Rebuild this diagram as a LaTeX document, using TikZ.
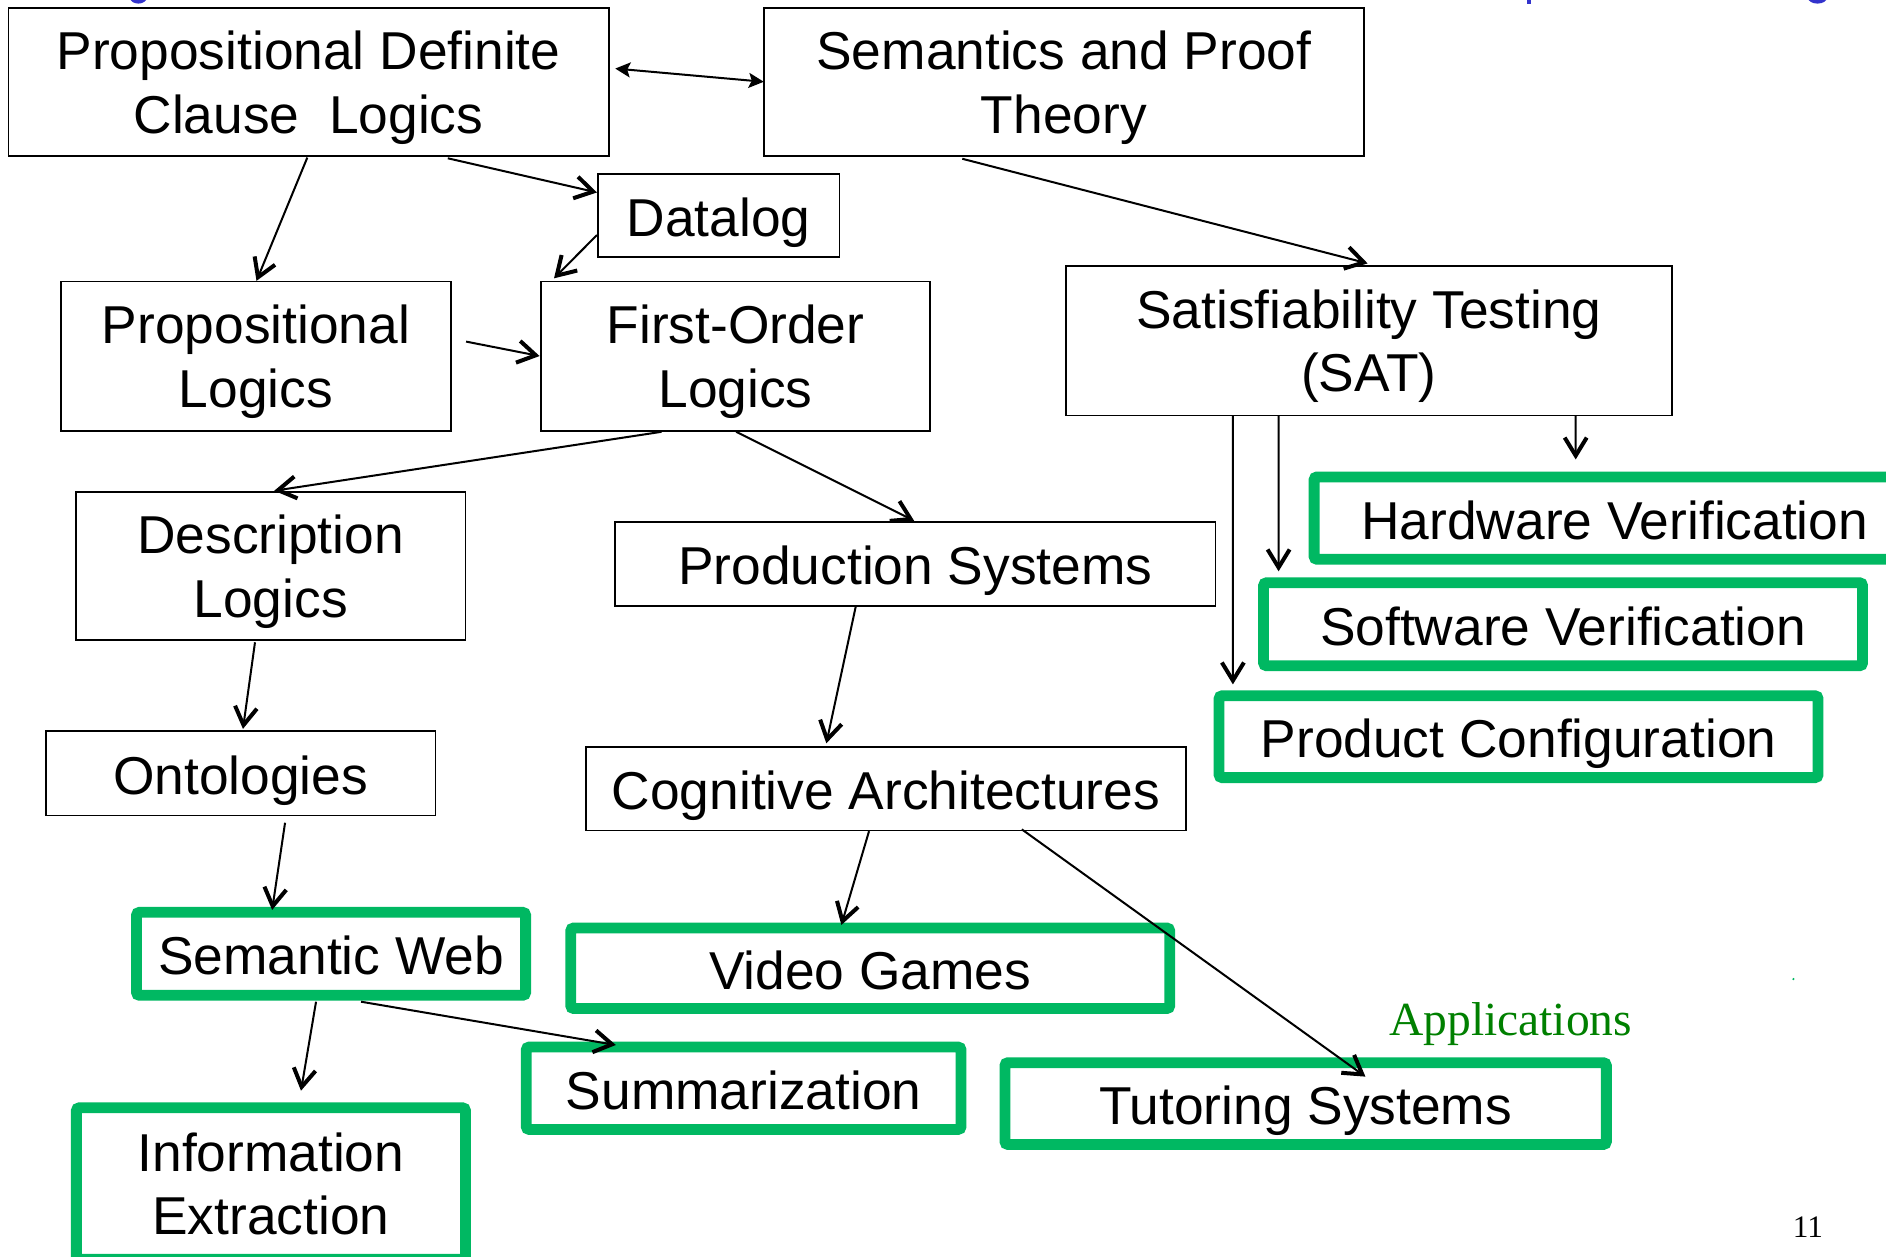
\documentclass[tikz,border=0pt]{standalone}
\usepackage{fontspec}
\setmainfont{Liberation Sans}
\newfontfamily\timesfont{Liberation Serif}
\usetikzlibrary{arrows.meta,calc}
\definecolor{gboxc}{RGB}{0,184,98}
\definecolor{appgreen}{RGB}{0,128,0}
\definecolor{titleblue}{RGB}{51,51,204}
\begin{document}
\begin{tikzpicture}[x=0.6pt,y=-0.6pt,
  every node/.style={font=\fontsize{26.6}{31.8}\selectfont},
  bbox/.style={draw=black, line width=0.9pt, inner sep=0pt, outer sep=0pt, align=center},
  gbox/.style={draw=gboxc, line width=5.4pt, rounded corners=1.5pt, inner sep=0pt, outer sep=0pt, align=center},
  oneline/.style={text height=26pt, text depth=5pt},
  twoline/.style={text depth=0pt},
  arr/.style={line width=1pt, -{Straight Barb[length=9pt,width=11pt,line width=2pt]}},
  dbl/.style={line width=1pt, {Stealth[length=7.5pt,width=7.5pt,inset=1.5pt]}-{Stealth[length=7.5pt,width=7.5pt,inset=1.5pt]}},
  ]
\useasboundingbox (0,0) rectangle (1568,1045);
\clip (0,0) rectangle (1568,1045);
\fill[white] (0,0) rectangle (1568,1045);

% fragments of the cut-off title
\fill[titleblue] (115,-2) ellipse (7 and 5);
\fill[titleblue] (1269.5,-2) rectangle (1272.5,3);
\fill[titleblue] (1511,-2) ellipse (8 and 5);

% black boxes
\node[bbox, twoline, minimum width=299.4pt, minimum height=74.1pt] (pdcl) at (256.5,68.25) {Propositional Definite\\Clause\ \ Logics};
\node[bbox, twoline, minimum width=299.4pt, minimum height=74.1pt] (sem) at (884.5,68.25) {Semantics and Proof\\Theory};
\node[bbox, oneline, minimum width=120.6pt, minimum height=41.7pt] (dat) at (597.5,179.25) {Datalog};
\node[bbox, twoline, minimum width=194.7pt, minimum height=74.4pt] (prop) at (212.75,296) {Propositional\\Logics};
\node[bbox, twoline, minimum width=194.4pt, minimum height=74.4pt] (fol) at (611.5,296) {First-Order\\Logics};
\node[bbox, twoline, minimum width=302.4pt, minimum height=74.7pt] (sat) at (1138,283.25) {Satisfiability Testing\\(SAT)};
\node[bbox, twoline, minimum width=194.4pt, minimum height=73.8pt] (desc) at (225,470.5) {Description\\Logics};
\node[bbox, oneline, minimum width=299.4pt, minimum height=41.7pt] (prod) at (761,468.75) {Production Systems};
\node[bbox, oneline, minimum width=194.4pt, minimum height=42pt] (onto) at (200,643) {Ontologies};
\node[bbox, oneline, minimum width=299.4pt, minimum height=41.7pt] (cog) at (736.5,655.75) {Cognitive Architectures};

% green boxes
\node[gbox, oneline, minimum width=300pt, minimum height=41.1pt] (hw) at (1342.5,430.75) {Hardware Verification};
\node[gbox, oneline, minimum width=298.8pt, minimum height=41.4pt] (sw) at (1299.5,519) {Software Verification};
\node[gbox, oneline, minimum width=298.8pt, minimum height=40.8pt] (pc) at (1262.5,612.5) {Product Configuration};
\node[gbox, oneline, minimum width=194.1pt, minimum height=41.4pt] (sweb) at (275.25,793) {Semantic Web};
\node[gbox, oneline, minimum width=298.8pt, minimum height=40.2pt] (vg) at (723.5,805) {Video Games};
\node[gbox, oneline, minimum width=216.9pt, minimum height=41.1pt] (sum) at (618.25,904.75) {Summarization};
\node[gbox, oneline, minimum width=300pt, minimum height=40.8pt] (tut) at (1085.5,917.5) {Tutoring Systems};
\node[gbox, twoline, minimum width=194.1pt, minimum height=75.6pt] (ie) at (225.25,984) {Information\\Extraction};

% labels
\node[font=\timesfont\fontsize{23.7}{28}\selectfont, text=appgreen] (apps) at (1256,851) {Applications};
\node[font=\timesfont\fontsize{15.6}{18}\selectfont] (pnum) at (1503,1020) {11};
\fill[gboxc] (1491,814) circle (1);

% connectors
\draw[dbl] ($(pdcl.north east)+(5.5,50.5)$) -- ($(sem.north west)+(0,61.5)$);
\draw[arr] ($(pdcl.south)+(-1,1)$) -- ($(prop.north)+(0.5,-0.5)$);
\draw[arr] ($(pdcl.south)+(115.8,1.6)$) -- ($(dat.north west)+(-0.7,15.5)$);
\draw[arr] ($(dat.north west)+(-0.7,50.9)$) -- ($(fol.north west)+(11.1,-2.6)$);
\draw[arr] ($(prop.north east)+(12.5,50)$) -- ($(fol.north west)+(-0.9,62)$);
\draw[arr] ($(sem.south)+(-84.5,2)$) -- ($(sat.north)+(-1,-2)$);
\draw[arr] ($(fol.south)+(-61.5,1)$) -- ($(desc.north)+(3,-1)$);
\draw[arr] ($(fol.south)+(0.5,1)$) -- ($(prod.north)+(-1,-1)$);
\draw[arr] ($(desc.south)+(-13,2)$) -- ($(onto.north)+(2,-2)$);
\draw[arr] ($(prod.south)+(-49.5,0.5)$) -- ($(cog.north)+(-49.5,-3)$);
\draw[arr] ($(onto.south)+(37,6)$) -- ($(sweb.north)+(-49,-2)$);
\draw[arr] ($(cog.south)+(-14,0.5)$) -- ($(vg.north)+(-24,-2.5)$);
\draw[arr] ($(cog.south)+(113,-1)$) -- ($(tut.north)+(49.7,11.6)$);
\draw[arr] ($(sweb.south)+(-12.5,5.3)$) -- ($(ie.north)+(25,-14.2)$);
\draw[arr] ($(sweb.south)+(24.9,5.3)$) -- ($(sum.north)+(-106.25,-1.7)$);
\draw[arr] ($(sat.south)+(-113,0)$) -- ($(pc.north west)+(11.5,-9.5)$);
\draw[arr] ($(sat.south)+(-75,0)$) -- ($(sw.north west)+(12.5,-9.5)$);
\draw[arr] ($(sat.south)+(172,0)$) -- ($(hw.north west)+(217.5,-14.5)$);
\end{tikzpicture}
\end{document}
